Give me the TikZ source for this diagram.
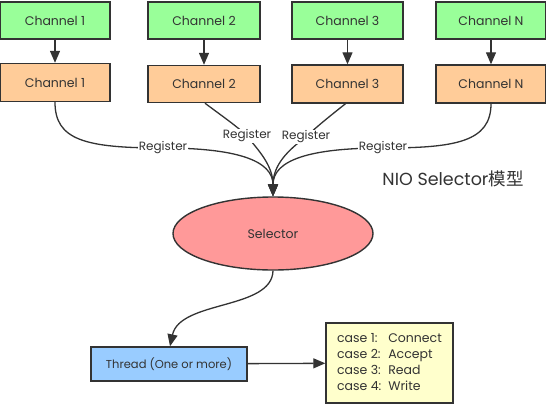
\documentclass[tikz,border=0pt]{standalone}
\usepackage{fontspec}
\setmainfont{Poppins}
\newfontfamily\cjkfont{Noto Sans CJK SC}
\usetikzlibrary{shapes.geometric,arrows.meta}
\definecolor{gbox}{HTML}{99FF99}
\definecolor{obox}{HTML}{FFCC99}
\definecolor{pbox}{HTML}{FF9999}
\definecolor{bbox}{HTML}{99CCFF}
\definecolor{ybox}{HTML}{FFFFCC}
\definecolor{ink}{HTML}{333333}
\tikzset{
  chbox/.style={draw=ink, line width=1.4pt, minimum width=110pt, inner sep=0pt, font=\fontsize{12.5}{14}\selectfont, text=ink},
  greenbox/.style={chbox, fill=gbox, minimum height=37pt},
  orangebox/.style={chbox, fill=obox, minimum height=38pt},
  conn/.style={draw=ink, line width=1.3pt, -{Triangle[length=12pt,width=10pt]}},
  reglabel/.style={fill=white, inner sep=1pt, text=ink, font=\fontsize{12}{13}\selectfont},
}
\begin{document}
\begin{tikzpicture}[x=1pt,y=-1pt]
\useasboundingbox (0,0) rectangle (546,405);
% channels
\node[greenbox] (g1) at (55,20.5) {Channel 1};
\node[greenbox, minimum width=112pt] (g2) at (204,20.5) {Channel 2};
\node[greenbox, minimum width=111pt] (g3) at (347.5,20.5) {Channel 3};
\node[greenbox] (g4) at (491,20.5) {Channel N};
\node[orangebox] (o1) at (55,82.5) {Channel 1};
\node[orangebox, minimum width=112pt, minimum height=37pt] (o2) at (204,84) {Channel 2};
\node[orangebox, minimum width=111pt] (o3) at (347.5,84) {Channel 3};
\node[orangebox] (o4) at (491,84) {Channel N};
\foreach \i in {1,2,3,4} \draw[conn] (g\i) -- (o\i);
% selector
\node[ellipse, draw=ink, line width=1.4pt, fill=pbox, minimum width=200pt, minimum height=73pt, inner sep=0pt, text=ink, font=\fontsize{12.5}{14}\selectfont] (sel) at (273,233.5) {Selector};
% register label positions
\coordinate (r1) at (163,148);
\coordinate (r2) at (247,136);
\coordinate (r3) at (306,137);
\coordinate (r4) at (383,148);
\draw[conn] (o1.south) .. controls (55,140) and (85,148) .. (r1) .. controls (235,148) and (273,160) .. (sel.north);
\draw[conn] ([xshift=1pt]o2.south) .. controls (222,116) and (238,127) .. (r2) .. controls (258,150) and (273,165) .. (sel.north);
\draw[conn] ([xshift=-2pt]o3.south) .. controls (330,116) and (315,128) .. (r3) .. controls (288,150) and (273,165) .. (sel.north);
\draw[conn] (o4.south) .. controls (491,142) and (455,148) .. (r4) .. controls (310,148) and (273,160) .. (sel.north);
\node[reglabel] (l1) at (r1) {Register};
\node[reglabel] (l2) at (r2) {Register};
\node[reglabel] (l3) at (r3) {Register};
\node[reglabel] (l4) at (r4) {Register};
% title
\node[text=ink, font=\fontsize{17.5}{20}\selectfont] (title) at (453,179) {NIO Selector{\cjkfont 模型}};
% thread
\node[draw=ink, line width=1.4pt, fill=bbox, minimum width=156pt, minimum height=34pt, inner sep=0pt, text=ink, font=\fontsize{11.5}{13}\selectfont] (thr) at (169,364) {Thread (One or more)};
\node[draw=ink, line width=1.4pt, fill=ybox, minimum width=127pt, minimum height=80pt, inner sep=0pt, text=ink, font=\fontsize{12.5}{16}\selectfont, align=left] (cases) at (389.5,363) {%
\begin{tabular}{@{}l@{\hspace{7pt}}l@{}}
case 1: & Connect\\
case 2: & Accept\\
case 3: & Read\\
case 4: & Write
\end{tabular}};
\draw[conn] (sel.south) .. controls (272,310) and (180,300) .. ([xshift=1pt]thr.north);
\draw[conn] (thr) -- (cases);
\end{tikzpicture}
\end{document}
